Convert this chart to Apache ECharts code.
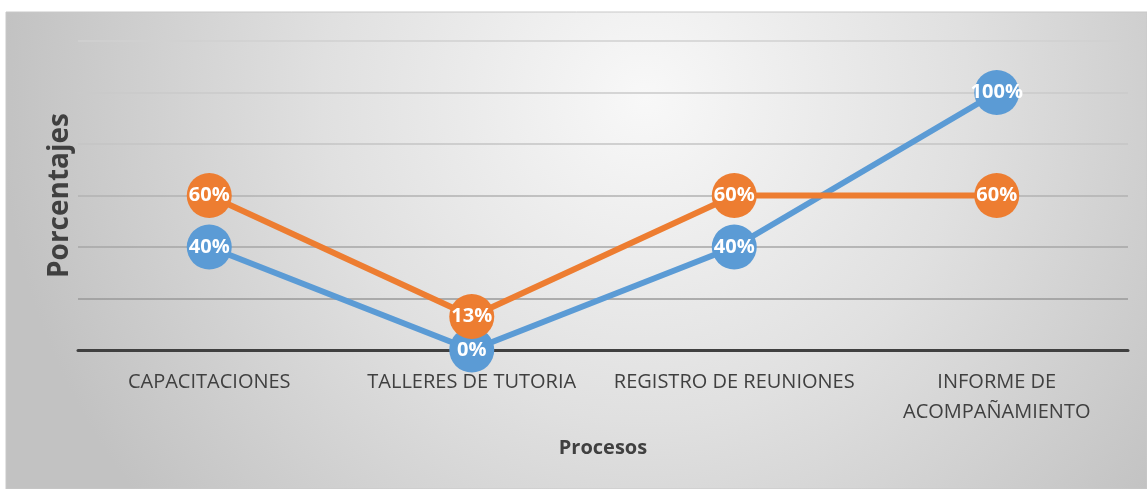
<!DOCTYPE html>
<html>
<head>
<meta charset="utf-8">
<script src="https://cdn.jsdelivr.net/npm/echarts@6/dist/echarts.min.js"></script>
<style>
  html, body { margin: 0; padding: 0; background: #ffffff; }
  #chart { width: 1147px; height: 489px; }
</style>
</head>
<body>
<div id="chart"></div>
<script>
  const categories = [
    "CAPACITACIONES",
    "TALLERES DE TUTORIA",
    "REGISTRO DE REUNIONES",
    "INFORME DE\nACOMPAÑAMIENTO"
  ];
  const serieAzul = [40, 0, 40, 100];
  const serieNaranja = [60, 13, 60, 60];

  const chart = echarts.init(document.getElementById("chart"));

  const labelStyle = {
    show: true,
    position: "inside",
    formatter: "{c}%",
    color: "#ffffff",
    fontFamily: "Open Sans",
    fontWeight: "bold",
    fontSize: 20
  };

  const option = {
    animation: false,
    graphic: [
      {
        type: "rect",
        z: -10,
        shape: { x: 6, y: 12, width: 1141, height: 477 },
        style: {
          fill: new echarts.graphic.RadialGradient(0.56, 0.18, 1.35, [
            { offset: 0, color: "#f8f8f8" },
            { offset: 0.5, color: "#e0e0e0" },
            { offset: 1, color: "#c2c2c2" }
          ]),
          stroke: "#c8c8c8",
          lineWidth: 1
        }
      }
    ],
    grid: { left: 78, right: 19, top: 41, bottom: 139 },
    xAxis: {
      type: "category",
      data: categories,
      boundaryGap: true,
      name: "Procesos",
      nameLocation: "middle",
      nameGap: 88,
      nameTextStyle: {
        color: "#404040",
        fontFamily: "Open Sans",
        fontWeight: "bold",
        fontSize: 20
      },
      axisLine: { lineStyle: { color: "#404040", width: 3 } },
      axisTick: { show: false },
      axisLabel: {
        color: "#404040",
        fontFamily: "Open Sans",
        fontSize: 20,
        margin: 17,
        lineHeight: 30,
        interval: 0
      }
    },
    yAxis: {
      type: "value",
      min: 0,
      max: 120,
      interval: 20,
      name: "Porcentajes",
      nameLocation: "middle",
      nameGap: 4,
      nameRotate: 90,
      nameTextStyle: {
        color: "#404040",
        fontFamily: "Open Sans",
        fontWeight: "bold",
        fontSize: 28
      },
      axisLine: { show: false },
      axisTick: { show: false },
      axisLabel: { show: false },
      splitLine: {
        lineStyle: {
          // lighter toward the top, like the original
          color: ["#909090", "#989898", "#a6a6a6", "#b2b2b2", "#c4c4c4", "#cacaca", "#d0d0d0"],
          width: 1.5
        }
      }
    },
    series: [
      {
        name: "Azul",
        type: "line",
        data: serieAzul,
        symbol: "circle",
        symbolSize: 45,
        itemStyle: { color: "#5b9bd5" },
        lineStyle: { color: "#5b9bd5", width: 6 },
        label: labelStyle
      },
      {
        name: "Naranja",
        type: "line",
        data: serieNaranja,
        symbol: "circle",
        symbolSize: 45,
        itemStyle: { color: "#ed7d31" },
        lineStyle: { color: "#ed7d31", width: 6 },
        label: labelStyle
      }
    ]
  };

  chart.setOption(option);
</script>
</body>
</html>
